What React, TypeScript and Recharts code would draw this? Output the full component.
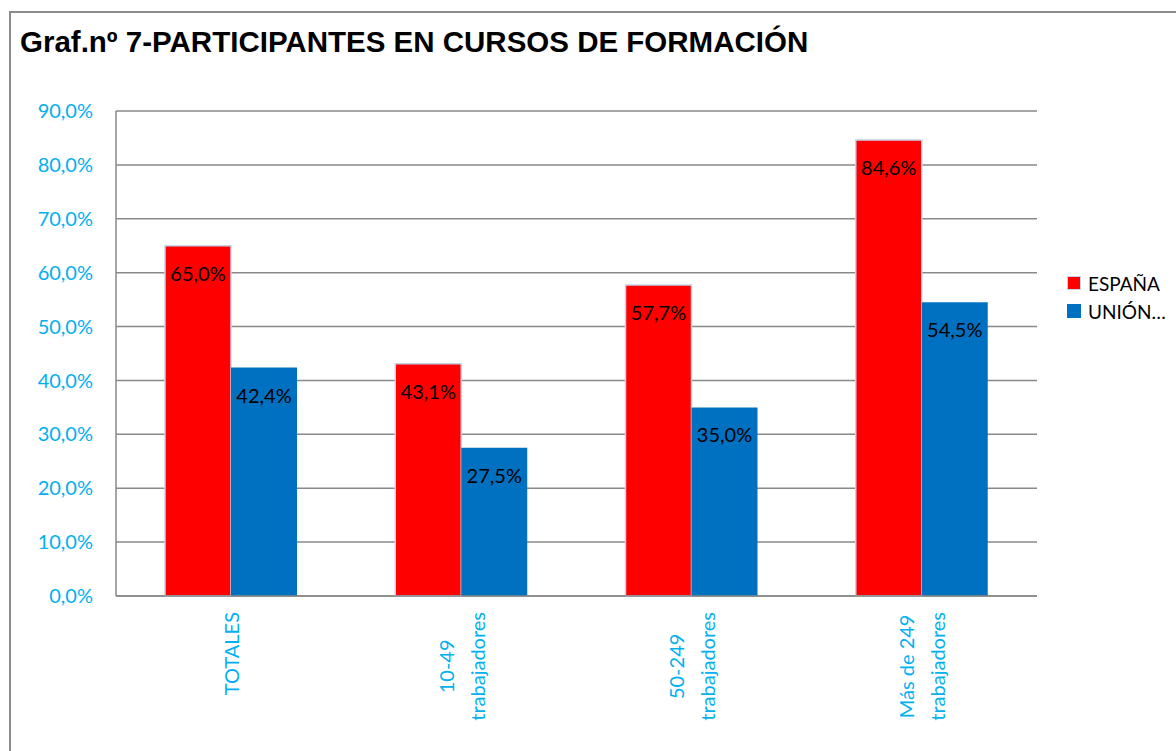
import React from 'react';
import { BarChart, Bar, XAxis, YAxis, CartesianGrid, Legend, LabelList } from 'recharts';

const categories = ['TOTALES', '10-49\ntrabajadores', '50-249\ntrabajadores', 'Más de 249\ntrabajadores'];
const espana = [65.0, 43.1, 57.7, 84.6];
const union = [42.4, 27.5, 35.0, 54.5];
const yTicks = [0, 10, 20, 30, 40, 50, 60, 70, 80, 90];

const data = categories.map((name, i) => ({ name, espana: espana[i], union: union[i] }));

const CYAN = '#00B0F0';
const FONT = 'Lato, "Open Sans", sans-serif';

const fmt = (v: number) => v.toFixed(1).replace('.', ',') + '%';

let ctx: CanvasRenderingContext2D | null = null;
const textWidth = (s: string) => {
  if (!ctx) ctx = document.createElement('canvas').getContext('2d');
  if (!ctx) return s.length * 10;
  ctx.font = '20px Lato';
  return ctx.measureText(s).width;
};

const XTick = (props: any) => {
  const { x, y, payload } = props;
  const lines: string[] = String(payload.value).split('\n');
  const maxW = Math.max(...lines.map(textWidth));
  const gap = 31;
  return (
    <g transform={`translate(${x},${y}) rotate(-90)`}>
      {lines.map((l, i) => (
        <text
          key={i}
          x={-maxW / 2}
          y={(i - (lines.length - 1) / 2) * gap}
          textAnchor="middle"
          dominantBaseline="central"
          fill={CYAN}
          fontSize={20}
          fontFamily={FONT}
        >
          {l}
        </text>
      ))}
    </g>
  );
};

const BarLabel = (props: any) => {
  const { x, y, width, value } = props;
  return (
    <text
      x={x + width / 2}
      y={y + 27}
      textAnchor="middle"
      dominantBaseline="central"
      fill="#000"
      fontSize={20}
      fontFamily={FONT}
    >
      {fmt(value)}
    </text>
  );
};

const LegendBox = (props: any) => {
  const { payload } = props;
  return (
    <div style={{ fontFamily: FONT, fontSize: 19 }}>
      {payload.map((p: any) => (
        <div key={p.value} style={{ display: 'flex', alignItems: 'center', height: 28 }}>
          <span
            style={{
              display: 'inline-block',
              width: 12,
              height: 12,
              background: p.color,
              border: p.dataKey === 'espana' ? '1.5px solid #C3D3E8' : '1.5px solid ' + p.color,
              marginRight: 7,
            }}
          />
          <span style={{ color: '#000' }}>{p.value}</span>
        </div>
      ))}
    </div>
  );
};

export default function App() {
  return (
    <div
      style={{
        position: 'absolute',
        left: 0,
        top: 0,
        width: 1176,
        height: 751,
        overflow: 'hidden',
        background: '#fff',
      }}
    >
      <div
        style={{
          position: 'absolute',
          left: 9,
          top: 11,
          width: 1300,
          height: 900,
          border: '2px solid #8C8C8C',
        }}
      />
      <div
        style={{
          position: 'absolute',
          left: 20,
          top: 27,
          fontFamily: '"Liberation Sans", Arial, sans-serif',
          fontWeight: 'bold',
          fontSize: 29.5,
          lineHeight: '29.5px',
          color: '#000',
          whiteSpace: 'nowrap',
        }}
      >
        Graf.nº 7-PARTICIPANTES EN CURSOS DE FORMACIÓN
      </div>
      <div style={{ position: 'absolute', left: 0, top: 0 }}>
        <BarChart
          width={1176}
          height={751}
          data={data}
          margin={{ top: 111, right: 139, bottom: 0, left: 0 }}
          barCategoryGap={49}
          barGap={0}
        >
          <CartesianGrid vertical={false} stroke="#898989" strokeWidth={1.5} />
          <XAxis
            dataKey="name"
            height={155}
            axisLine={{ stroke: '#898989', strokeWidth: 1.5 }}
            tickLine={false}
            tickSize={0}
            tickMargin={16}
            interval={0}
            tick={<XTick />}
          />
          <YAxis
            width={116}
            domain={[0, 90]}
            ticks={yTicks}
            tickFormatter={fmt}
            axisLine={{ stroke: '#898989', strokeWidth: 1.5 }}
            tickLine={false}
            tickSize={0}
            tickMargin={23}
            tick={{ fill: CYAN, fontSize: 20, fontFamily: FONT }}
          />
          <Legend
            layout="horizontal"
            verticalAlign="middle"
            align="center"
            content={<LegendBox />}
            wrapperStyle={{ left: 1067, top: 269, width: 'auto' }}
          />
          <Bar
            dataKey="espana"
            name="ESPAÑA"
            fill="#FF0000"
            stroke="#C3D3E8"
            strokeWidth={1.5}
            isAnimationActive={false}
          >
            <LabelList dataKey="espana" content={<BarLabel />} />
          </Bar>
          <Bar dataKey="union" name="UNIÓN…" fill="#0070C0" isAnimationActive={false}>
            <LabelList dataKey="union" content={<BarLabel />} />
          </Bar>
        </BarChart>
      </div>
    </div>
  );
}
